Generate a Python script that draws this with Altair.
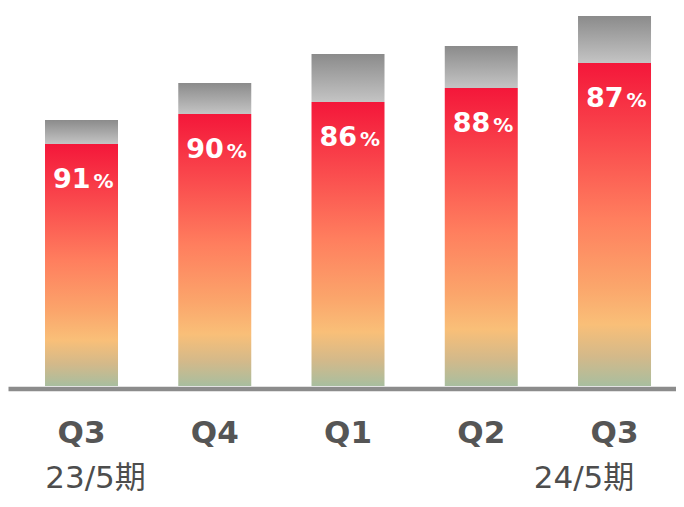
import altair as alt
import pandas as pd

# ---- data ----
keys = ["23Q3", "23Q4", "24Q1", "24Q2", "24Q3"]
quarters = ["Q3", "Q4", "Q1", "Q2", "Q3"]
totals = [266, 303, 332, 340, 370]
red_vals = [242, 272, 284, 298, 323]
pcts = [91, 90, 86, 88, 87]
period_keys = ["23Q3", "24Q3"]
period_labels = ["23/5期", "24/5期"]

df = pd.DataFrame({"key": keys, "q": quarters, "total": totals, "red": red_vals, "pct": pcts})

red_grad = {
    "gradient": "linear", "x1": 0, "x2": 0, "y1": 0, "y2": 1,
    "stops": [
        {"offset": 0.0, "color": "#F4173A"},
        {"offset": 0.25, "color": "#FA4C4E"},
        {"offset": 0.48, "color": "#FF7E5E"},
        {"offset": 0.69, "color": "#FBA56B"},
        {"offset": 0.81, "color": "#F9BF78"},
        {"offset": 0.91, "color": "#D3B98A"},
        {"offset": 1.0, "color": "#A8BE9F"},
    ],
}
gray_grad = {
    "gradient": "linear", "x1": 0, "x2": 0, "y1": 0, "y2": 1,
    "stops": [
        {"offset": 0.0, "color": "#8B8B8B"},
        {"offset": 1.0, "color": "#C4C4C4"},
    ],
}

keys_js = "[" + ",".join(f"'{k}'" for k in keys) + "]"
q_js = "[" + ",".join(f"'{q}'" for q in quarters) + "]"

x_enc = alt.X(
    "key:N",
    scale=alt.Scale(domain=keys, paddingInner=0.4522, paddingOuter=0.2326, align=0.597),
    axis=alt.Axis(
        title=None, ticks=False, tickSize=0, grid=False,
        domainColor="#8C8C8C", domainWidth=4.5, offset=2.5,
        labelExpr=f"{q_js}[indexof({keys_js}, datum.value)]",
        labelFont="DejaVu Sans", labelFontSize=31, labelFontWeight="bold",
        labelColor="#555555", labelBaseline="alphabetic", labelPadding=53.5,
        labelAngle=0,
    ),
)
y_scale = alt.Scale(domain=[0, 378], nice=False)

base = alt.Chart(df)

gray = base.mark_bar(color=gray_grad).encode(
    x=x_enc,
    y=alt.Y("total:Q", scale=y_scale, axis=None),
    y2="red:Q",
)
red = base.mark_bar(color=red_grad).encode(
    x=x_enc,
    y=alt.Y("red:Q", scale=y_scale, axis=None),
)
num = base.mark_text(
    align="right", baseline="alphabetic", dx=9, dy=44,
    font="DejaVu Sans", fontSize=27, fontWeight="bold", color="white",
).encode(x=x_enc, y=alt.Y("red:Q", scale=y_scale, axis=None), text="pct:Q")
pct_sign = base.mark_text(
    align="left", baseline="alphabetic", dx=12, dy=44,
    font="DejaVu Sans", fontSize=20, fontWeight="bold", color="white",
).encode(x=x_enc, y=alt.Y("red:Q", scale=y_scale, axis=None), text=alt.value("%"))

pdf = pd.DataFrame({"key": period_keys, "label": period_labels})
p1 = alt.Chart(pdf.iloc[[0]]).mark_text(
    align="center", baseline="alphabetic", dx=14,
    font="DejaVu Sans, Noto Sans CJK JP", fontSize=31, color="#4D4D4D",
).encode(x=x_enc, y=alt.value(480), text="label:N")
p2 = alt.Chart(pdf.iloc[[1]]).mark_text(
    align="center", baseline="alphabetic", dx=-30.5,
    font="DejaVu Sans, Noto Sans CJK JP", fontSize=31, color="#4D4D4D",
).encode(x=x_enc, y=alt.value(480), text="label:N")

chart = alt.layer(gray, red, num, pct_sign, p1, p2).properties(
    width=668, height=378,
    padding={"left": 0, "right": 0, "top": 0, "bottom": 113},
    autosize=alt.AutoSizeParams(type="none"),
).configure_view(stroke=None)

chart.save("out.html", embed_options={"renderer": "svg", "actions": False})
